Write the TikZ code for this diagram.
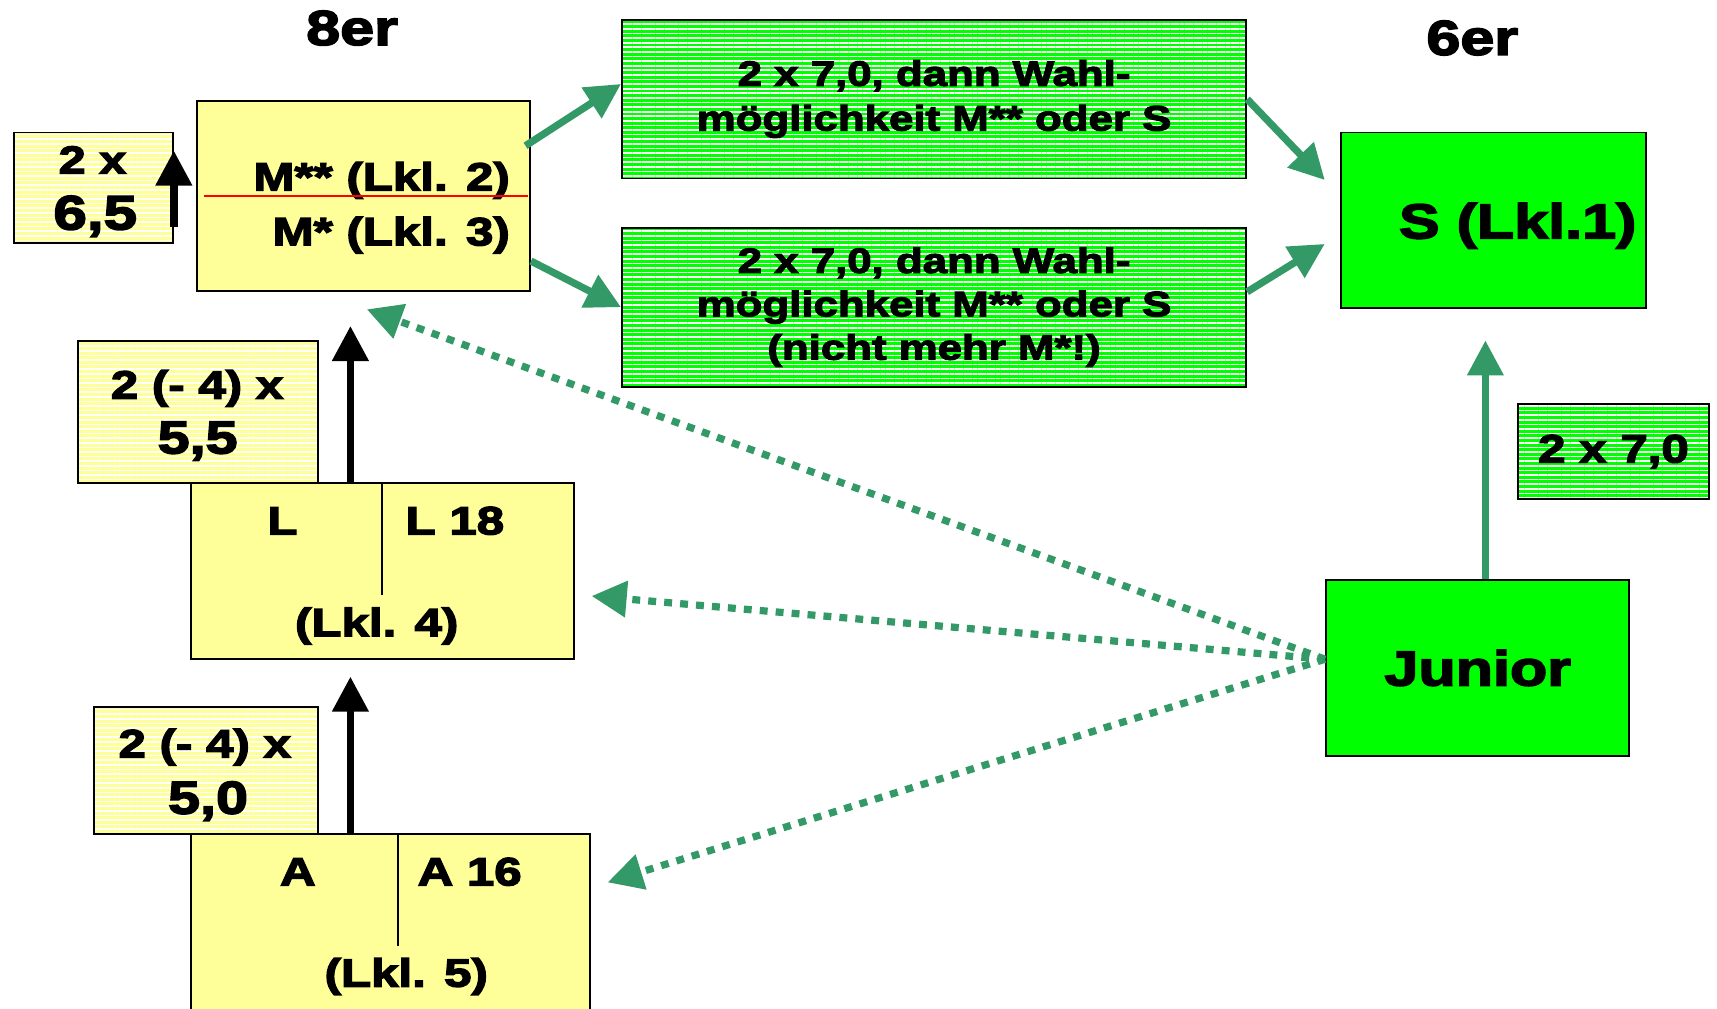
\documentclass[tikz,border=0pt]{standalone}
\usepackage{fontspec}
\setmainfont{Liberation Sans}[BoldFeatures={FakeBold=3.5,FakeStretch=1.25}]
\usetikzlibrary{arrows.meta, patterns.meta, positioning}

\definecolor{paleyellow}{HTML}{FFFF99}
\definecolor{brightgreen}{HTML}{00FF00}
\definecolor{arrowgreen}{HTML}{339966}

\tikzset{
  box/.style={draw=black, line width=0.9pt, inner sep=0pt},
  yellowbox/.style={box, fill=paleyellow},
  greenbox/.style={box, fill=brightgreen},
  hatchbox/.style={box, preaction={fill=#1}, pattern={Lines[distance=2.1pt,line width=0.75pt]}, pattern color=white},
  fs/.style={font=\fontsize{#1}{#1}\selectfont\bfseries, inner sep=0pt},
  blackarrow/.style={line width=3.4pt, -{Triangle[width=16pt,length=16pt]}},
  greenarrow/.style={arrowgreen, line width=3.3pt, -{Triangle[width=16pt,length=16pt]}},
  dotarrow/.style={arrowgreen, line width=3.3pt, dash pattern=on 3.6pt off 3.7pt, -{Triangle[width=16pt,length=16pt]}},
}

\begin{document}
\begin{tikzpicture}[x=0.5pt, y=-0.5pt]
\clip (0,0) rectangle (1568,921);

% headings
\node[fs=22.3, anchor=base] (h8) at (321.5,41) {8er};
\node[fs=22.3, anchor=base] (h6) at (1344.5,50) {6er};

% 8er column
\node[hatchbox=paleyellow, minimum width=72.5pt, minimum height=50.5pt] (a) at (85.5,171.5) {};
\node[fs=17.8, anchor=base] (a1) at (84.5,158.5) {2 x};
\node[fs=22, anchor=base] (a2) at (87,209.5) {6,5};

\node[yellowbox, minimum width=152pt, minimum height=87pt] (m) at (332,179) {};
\node[fs=18, anchor=base east] (m2) at (466,174) {M** (Lkl. 2)};
\node[fs=18, anchor=base east] (m3) at (466,224) {M* (Lkl. 3)};
\draw[red, line width=0.6pt] ([xshift=3.5pt]m.west) -- ([xshift=-1.5pt]m.east);

\node[hatchbox=paleyellow, minimum width=109.5pt, minimum height=65pt] (c) at (180.5,376) {};
\node[fs=18, anchor=base] (c1) at (180,364) {2 (- 4) x};
\node[fs=21, anchor=base] (c2) at (180.5,414) {5,5};

\node[yellowbox, minimum width=175pt, minimum height=80.5pt] (l) at (349,521.5) {};
\draw[line width=0.8pt] (l.north) -- ([yshift=-51.5pt]l.north);
\node[fs=18, anchor=base] (l1) at (258,488) {L};
\node[fs=18, anchor=base west] (l2) at (370,488) {L 18};
\node[fs=18, anchor=base] (l3) at (344,581) {(Lkl. 4)};

\node[hatchbox=paleyellow, minimum width=102pt, minimum height=58pt] (e) at (188,704) {};
\node[fs=18, anchor=base] (e1) at (187,691.6) {2 (- 4) x};
\node[fs=21, anchor=base] (e2) at (190,743) {5,0};

\node[yellowbox, minimum width=182.5pt, minimum height=84pt] (f) at (356.5,846) {};
\draw[line width=0.8pt] ([xshift=3.5pt]f.north) -- ([xshift=3.5pt,yshift=-51.5pt]f.north);
\node[fs=18, anchor=base] (f1) at (272,808.5) {A};
\node[fs=18, anchor=base west] (f2) at (381,808.5) {A 16};
\node[fs=18, anchor=base] (f3) at (371,901) {(Lkl. 5)};

% middle
\node[hatchbox=brightgreen, minimum width=285pt, minimum height=72.5pt, align=center,
  font=\fontsize{16}{20.4}\selectfont\bfseries] (g1) at (853,90.5)
  {2 x 7,0, dann Wahl-\\möglichkeit M** oder S};
\node[hatchbox=brightgreen, minimum width=285pt, minimum height=72.5pt, align=center,
  font=\fontsize{16}{19.8}\selectfont\bfseries] (g2) at (853,280.5)
  {2 x 7,0, dann Wahl-\\möglichkeit M** oder S\\(nicht mehr M*!)};

% 6er column
\node[greenbox, minimum width=139pt, minimum height=80pt] (s) at (1364,201) {};
\node[fs=22.3, anchor=base] (stext) at (1386,217.6) {S (Lkl.1)};
\node[hatchbox=brightgreen, minimum width=87.5pt, minimum height=43.5pt, fs=18] (h) at (1473.5,412.5) {2 x 7,0};
\node[greenbox, minimum width=138.5pt, minimum height=80pt, fs=22.3] (j) at (1349.5,610) {Junior};

% black arrows
\draw[blackarrow] ([yshift=-17.75pt]a.east) -- ([yshift=17pt]a.east);
\coordinate (lup) at ([xshift=-14.5pt]l.north);
\draw[blackarrow, shorten >=15.4pt] (lup) -- (lup |- m.south);
\coordinate (fup) at ([xshift=-18.25pt]f.north);
\draw[blackarrow, shorten >=7.5pt] (fup) -- (fup |- l.south);

% green arrows
\draw[greenarrow] ([xshift=-2.5pt,yshift=-21pt]m.north east) -- ([yshift=6.9pt]g1.west);
\draw[greenarrow] ([yshift=14.25pt]m.south east) -- (g2.west);
\draw[greenarrow] (g1.east) -- ([xshift=-7.15pt,yshift=18.3pt]s.west);
\draw[greenarrow] ([yshift=7pt]g2.east) -- ([xshift=-7.15pt,yshift=-10.9pt]s.west);
\coordinate (jup) at ([xshift=3.5pt]j.north);
\draw[greenarrow, shorten >=14.5pt] (jup) -- (jup |- s.south);

% dotted arrows from Junior
\coordinate (jout) at ([yshift=4pt]j.west);
\draw[dotarrow] (jout) -- ([xshift=1.5pt,yshift=-7.8pt]m.south);
\draw[dotarrow] (jout) -- ([xshift=7.7pt,yshift=-11.4pt]l.east);
\draw[dotarrow] (jout) -- ([xshift=7.5pt,yshift=-22.35pt]f.north east);
\end{tikzpicture}
\end{document}
